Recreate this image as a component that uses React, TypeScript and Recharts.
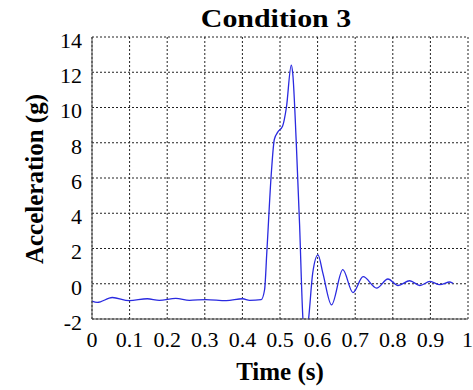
import React from "react";
import { LineChart, Line, XAxis, YAxis, CartesianGrid } from "recharts";

// readings taken off the reference trace
const timeS = [
  0, 0.014, 0.054, 0.099, 0.147, 0.179, 0.223, 0.259, 0.303, 0.357, 0.401, 0.419, 0.45,
  0.459, 0.465, 0.477, 0.485, 0.494, 0.507, 0.517, 0.53, 0.534, 0.543, 0.552, 0.561,
  0.568, 0.576, 0.587, 0.601, 0.614, 0.637, 0.667, 0.694, 0.721, 0.757, 0.787, 0.814,
  0.845, 0.872, 0.899, 0.925, 0.952, 0.96,
];
const accelG = [
  -0.99, -1.06, -0.78, -0.96, -0.85, -0.94, -0.83, -0.94, -0.9, -0.96, -0.85, -0.94, -0.9,
  -0.34, 1.8, 6.3, 8.2, 8.6, 8.95, 10, 12.4, 11.9, 8.15, 3.4, -2,
  -3.2, -2, 0.6, 1.64, 0.6, -1.2, 0.8, -0.5, 0.4, -0.25, 0.27, -0.1,
  0.17, -0.1, 0.13, -0.05, 0.1, 0.02,
];
const xTicks = [0, 0.1, 0.2, 0.3, 0.4, 0.5, 0.6, 0.7, 0.8, 0.9, 1];
const yTicks = [-2, 0, 2, 4, 6, 8, 10, 12, 14];

const data = timeS.map((t, i) => ({ t, a: accelG[i] }));

const serif = '"Liberation Serif", "Times New Roman", serif';

const YLabel = () => (
  <text
    x={34}
    y={179}
    transform="rotate(-90 34 179)"
    textAnchor="middle"
    dominantBaseline="central"
    fontFamily={serif}
    fontWeight="bold"
    fontSize={25}
    fill="#000"
  >
    Acceleration (g)
  </text>
);

const App: React.FC = () => {
  return (
    <div style={{ position: "absolute", left: 0, top: 0, width: 473, height: 390, background: "#fff" }}>
      <div
        style={{
          position: "absolute",
          left: 80,
          top: 6,
          width: 392,
          textAlign: "center",
          fontFamily: serif,
          fontWeight: "bold",
          fontSize: 26,
          lineHeight: "26px",
          transform: "scaleX(1.15)",
        }}
      >
        Condition 3
      </div>
      <LineChart width={473} height={390} data={data} margin={{ top: 37, right: 5, bottom: 0, left: 0 }}>
        <CartesianGrid stroke="#222" strokeDasharray="2 2" />
        <XAxis
          dataKey="t"
          type="number"
          domain={[0, 1]}
          ticks={xTicks}
          height={71}
          tickSize={0}
          tickMargin={12}
          tickLine={false}
          axisLine={{ stroke: "#444" }}
          tick={{ fill: "#000", fontSize: 22, fontFamily: serif }}
          label={{
            value: "Time (s)",
            position: "insideBottom",
            offset: 10,
            fill: "#000",
            fontSize: 25,
            fontWeight: "bold",
            fontFamily: serif,
          }}
        />
        <XAxis xAxisId="top" orientation="top" type="number" domain={[0, 1]} height={0} tick={false} tickLine={false} axisLine={{ stroke: "#444" }} />
        <YAxis
          type="number"
          domain={[-2, 14]}
          ticks={yTicks}
          allowDataOverflow
          width={92}
          tickSize={0}
          tickMargin={10}
          tickLine={false}
          axisLine={{ stroke: "#444" }}
          tick={{ fill: "#000", fontSize: 22, fontFamily: serif, dy: 3 }}
          label={{ content: () => <YLabel /> }}
        />
        <YAxis yAxisId="right" orientation="right" width={0} domain={[-2, 14]} tick={false} tickLine={false} axisLine={{ stroke: "#444" }} />
        <Line
          dataKey="a"
          type="monotone"
          stroke="#2a2ae0"
          strokeWidth={1.3}
          dot={false}
          isAnimationActive={false}
        />
      </LineChart>
    </div>
  );
};

export default App;
